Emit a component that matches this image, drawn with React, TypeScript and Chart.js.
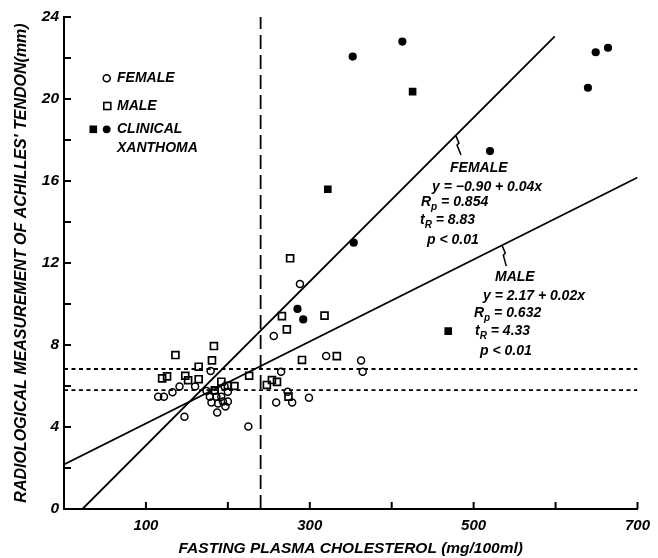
import { useEffect, useRef } from 'react';
import Chart from 'chart.js/auto';

// Open circles: female
const femaleX = [179, 115, 122, 132.4, 141, 160, 174, 178, 186, 192, 196, 200, 180, 188, 194, 200, 197, 187, 147, 225, 184, 288, 256, 320, 362.6, 364.6, 265, 273, 259, 278.5, 299];
const femaleY = [6.73, 5.48, 5.48, 5.69, 5.97, 5.97, 5.76, 5.48, 5.48, 5.48, 5.97, 5.72, 5.19, 5.15, 5.24, 5.24, 5.0, 4.71, 4.5, 4.02, 5.77, 10.98, 8.44, 7.46, 7.24, 6.7, 6.7, 5.72, 5.2, 5.2, 5.43];

// Open squares: male
const maleX = [183, 136, 180.6, 164.4, 119.8, 125.8, 148, 151.5, 164.4, 192, 200, 208, 184, 226, 276, 266, 318, 272, 290.5, 333, 253.8, 260, 247.6, 274];
const maleY = [7.95, 7.51, 7.25, 6.94, 6.37, 6.47, 6.5, 6.28, 6.33, 6.21, 6.01, 6.0, 5.79, 6.5, 12.23, 9.41, 9.43, 8.76, 7.27, 7.46, 6.29, 6.2, 6.05, 5.48];

// Clinical xanthoma: filled circles (female) and filled squares (male)
const xanthFemaleX = [352.4, 413, 649, 664, 639.5, 520, 353.6, 285, 292];
const xanthFemaleY = [22.07, 22.8, 22.28, 22.5, 20.55, 17.46, 12.99, 9.76, 9.25];
const xanthMaleX = [425.5, 322, 469];
const xanthMaleY = [20.36, 15.6, 8.68];

// Regression lines
const femaleIntercept = -0.9;
const femaleSlope = 0.04;
const femaleLineX = [22.5, 599];
const maleIntercept = 2.17;
const maleSlope = 0.02;
const maleLineX = [0, 700];

// Reference lines
const cholesterolCut = [240];
const tendonCuts = [6.83, 5.8];

const xTickLabels = [100, 300, 500, 700];
const yTickLabels = [0, 4, 8, 12, 16, 20, 24];

const FAMILY = '"Liberation Sans", Arial, sans-serif';
const f = (size: number) => `italic bold ${size}px ${FAMILY}`;

export default function App() {
  const ref = useRef<HTMLCanvasElement>(null);

  useEffect(() => {
    const canvas = ref.current!;
    const pts = (xs: number[], ys: number[]) => xs.map((x, i) => ({ x, y: ys[i] }));
    const linePts = (xs: number[], a: number, b: number) => xs.map((x) => ({ x, y: a + b * x }));

    const rich = (ctx: CanvasRenderingContext2D, x: number, y: number, parts: [string, boolean?][], size = 14) => {
      let cx = x;
      for (const [t, sub] of parts) {
        ctx.font = f(sub ? 10 : size);
        ctx.fillText(t, cx, sub ? y + 5 : y);
        cx += ctx.measureText(t).width;
      }
    };

    const overlay = {
      id: 'overlay',
      afterDraw(chart: any) {
        const ctx: CanvasRenderingContext2D = chart.ctx;
        const { left, bottom } = chart.chartArea;
        const xs = chart.scales.x;
        const ys = chart.scales.y;
        ctx.save();
        ctx.strokeStyle = '#000';
        ctx.fillStyle = '#000';
        ctx.lineWidth = 2;
        // inner tick marks
        for (const t of xs.ticks) {
          if (t.value <= xs.min) continue;
          const px = xs.getPixelForValue(t.value);
          ctx.beginPath();
          ctx.moveTo(px, bottom);
          ctx.lineTo(px, bottom - 7);
          ctx.stroke();
        }
        for (const t of ys.ticks) {
          if (t.value <= ys.min) continue;
          const py = ys.getPixelForValue(t.value);
          ctx.beginPath();
          ctx.moveTo(left, py);
          ctx.lineTo(left + 7, py);
          ctx.stroke();
        }

        // legend
        ctx.lineWidth = 1.6;
        ctx.beginPath();
        ctx.arc(106.7, 78.3, 3.5, 0, Math.PI * 2);
        ctx.stroke();
        ctx.strokeRect(103.8, 102.5, 7, 7);
        ctx.fillRect(89.5, 125.5, 7.6, 7.6);
        ctx.beginPath();
        ctx.arc(106.7, 129.3, 3.9, 0, Math.PI * 2);
        ctx.fill();
        ctx.textBaseline = 'middle';
        ctx.textAlign = 'left';
        ctx.font = f(14);
        ctx.fillText('FEMALE', 117, 78.5);
        ctx.fillText('MALE', 117, 106.5);
        ctx.fillText('CLINICAL', 117, 129.5);
        ctx.fillText('XANTHOMA', 117, 148);

        // annotations
        ctx.font = f(14);
        ctx.fillText('FEMALE', 450, 168);
        ctx.fillText('y = \u22120.90 + 0.04x', 432, 187.5);
        rich(ctx, 421, 202, [['R'], ['p', true], [' = 0.854']]);
        rich(ctx, 420, 220.5, [['t'], ['R', true], [' = 8.83']]);
        ctx.font = f(14);
        ctx.fillText('p < 0.01', 427, 240);

        ctx.fillText('MALE', 495, 277);
        ctx.fillText('y = 2.17 + 0.02x', 483, 296);
        rich(ctx, 474, 313, [['R'], ['p', true], [' = 0.632']]);
        rich(ctx, 475, 331.5, [['t'], ['R', true], [' = 4.33']]);
        ctx.font = f(14);
        ctx.fillText('p < 0.01', 480, 351);

        // squiggle pointers
        ctx.lineWidth = 1.5;
        const fx = 478.5;
        const fpx = xs.getPixelForValue(fx);
        const fpy = ys.getPixelForValue(femaleIntercept + femaleSlope * fx);
        ctx.beginPath();
        ctx.moveTo(fpx, fpy + 1);
        ctx.lineTo(fpx + 3, fpy + 8);
        ctx.lineTo(fpx + 1, fpy + 10);
        ctx.lineTo(fpx + 5, fpy + 20);
        ctx.stroke();
        const mx = 535;
        const mpx = xs.getPixelForValue(mx);
        const mpy = ys.getPixelForValue(maleIntercept + maleSlope * mx);
        ctx.beginPath();
        ctx.moveTo(mpx, mpy + 1);
        ctx.lineTo(mpx + 3, mpy + 8);
        ctx.lineTo(mpx + 1, mpy + 10);
        ctx.lineTo(mpx + 4, mpy + 21);
        ctx.stroke();
        ctx.restore();
      },
    };

    const chart = new Chart(canvas, {
      type: 'scatter',
      data: {
        datasets: [
          {
            label: 'cut',
            data: [{ x: cholesterolCut[0], y: 0 }, { x: cholesterolCut[0], y: 24 }],
            showLine: true,
            borderColor: '#000',
            borderWidth: 1.8,
            borderDash: [14, 6],
            pointRadius: 0,
          },
          ...tendonCuts.map((v) => ({
            label: 'tcut',
            data: [{ x: 0, y: v }, { x: 700, y: v }],
            showLine: true,
            borderColor: '#000',
            borderWidth: 1.8,
            borderDash: [4, 3.5],
            pointRadius: 0,
          })),
          {
            label: 'female line',
            data: linePts(femaleLineX, femaleIntercept, femaleSlope),
            showLine: true,
            borderColor: '#000',
            borderWidth: 1.8,
            pointRadius: 0,
          },
          {
            label: 'male line',
            data: linePts(maleLineX, maleIntercept, maleSlope),
            showLine: true,
            borderColor: '#000',
            borderWidth: 1.8,
            pointRadius: 0,
          },
          {
            label: 'FEMALE',
            data: pts(femaleX, femaleY),
            pointStyle: 'circle',
            pointRadius: 3.5,
            borderWidth: 1.5,
            borderColor: '#000',
            backgroundColor: 'rgba(0,0,0,0)',
          },
          {
            label: 'MALE',
            data: pts(maleX, maleY),
            pointStyle: 'rect',
            pointRadius: 4.9,
            borderWidth: 1.7,
            borderColor: '#000',
            backgroundColor: 'rgba(0,0,0,0)',
          },
          {
            label: 'xanthoma female',
            data: pts(xanthFemaleX, xanthFemaleY),
            pointStyle: 'circle',
            pointRadius: 4.1,
            borderWidth: 0,
            backgroundColor: '#000',
          },
          {
            label: 'xanthoma male',
            data: pts(xanthMaleX, xanthMaleY),
            pointStyle: 'rect',
            pointRadius: 5.4,
            borderWidth: 0,
            backgroundColor: '#000',
          },
        ],
      },
      options: {
        responsive: false,
        animation: false,
        events: [],
        layout: { padding: { top: 17, right: 19, left: 0, bottom: 0 } },
        plugins: { legend: { display: false }, tooltip: { enabled: false } },
        scales: {
          x: {
            type: 'linear',
            position: 'bottom',
            min: 0,
            max: 700,
            afterFit: (s: any) => { s.height = 49; },
            grid: { display: true, drawOnChartArea: false, drawTicks: false },
            border: { display: true, color: '#000', width: 2 },
            ticks: {
              stepSize: 100,
              autoSkip: false,
              maxRotation: 0,
              padding: 8,
              color: '#000',
              font: { family: FAMILY, size: 15, style: 'italic', weight: 'bold' },
              callback: (v: any) => (xTickLabels.includes(Number(v)) ? String(v) : ''),
            },
            title: {
              display: true,
              text: 'FASTING PLASMA CHOLESTEROL (mg/100ml)',
              color: '#000',
              padding: { top: 0, bottom: 0 },
              font: { family: FAMILY, size: 15.5, style: 'italic', weight: 'bold' },
            },
          },
          y: {
            type: 'linear',
            position: 'left',
            min: 0,
            max: 24,
            afterFit: (s: any) => { s.width = 64; },
            grid: { display: true, drawOnChartArea: false, drawTicks: false },
            border: { display: true, color: '#000', width: 2 },
            ticks: {
              stepSize: 2,
              autoSkip: false,
              padding: 5,
              color: '#000',
              font: { family: FAMILY, size: 15.5, style: 'italic', weight: 'bold' },
              callback: (v: any) => (yTickLabels.includes(Number(v)) ? String(v) : ''),
            },
            title: {
              display: true,
              text: "RADIOLOGICAL MEASUREMENT OF ACHILLES' TENDON(mm)",
              color: '#000',
              padding: { top: 12, bottom: 0 },
              font: { family: FAMILY, size: 16, style: 'italic', weight: 'bold' },
            },
          },
        },
      },
      plugins: [overlay],
    } as any);
    return () => chart.destroy();
  }, []);

  return (
    <div style={{ position: 'fixed', left: 0, top: 0, width: 658, height: 558, background: '#fff' }}>
      <canvas ref={ref} width={658} height={558} style={{ width: 658, height: 558, display: 'block' }} />
    </div>
  );
}
